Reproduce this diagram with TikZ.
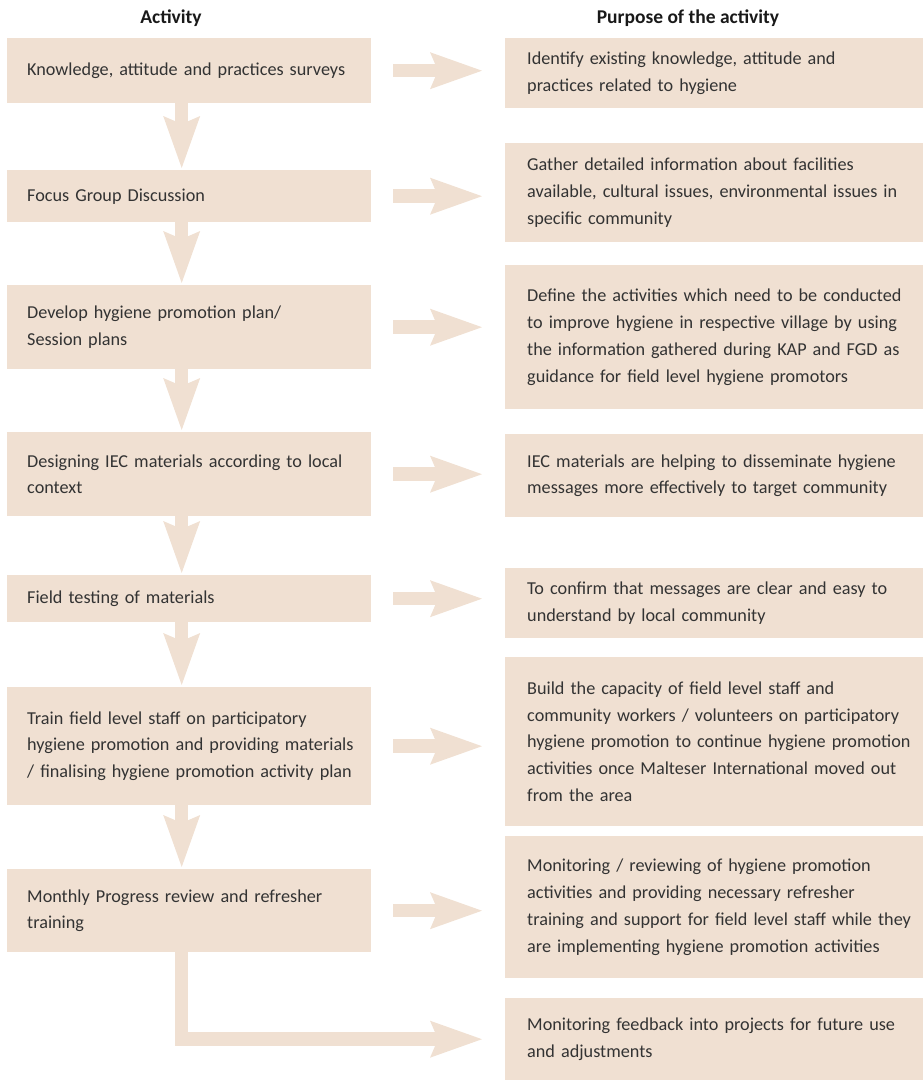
\documentclass[tikz,border=0pt]{standalone}
\usepackage{fontspec}
\setmainfont{Carlito}
\usetikzlibrary{arrows.meta}
\definecolor{boxfill}{HTML}{F0E0D2}
\definecolor{boxtext}{HTML}{333333}
\tikzset{
  actbox/.style={fill=boxfill, anchor=north west, inner xsep=0pt, inner ysep=0pt,
    text width=364pt, align=left, text=boxtext,
    font=\fontsize{18.2}{26.7}\selectfont,
    execute at begin node={\leftskip=20pt\relax}},
  purbox/.style={actbox, text width=418pt,
    execute at begin node={\leftskip=22pt\relax}},
  flow/.style={draw=boxfill, line width=13.5pt, line join=miter,
    -{Stealth[length=52pt,width=37pt,inset=8pt,line width=0pt]}},
  colhead/.style={font=\bfseries\fontsize{19.5}{22}\selectfont, text=black!90}
}
\begin{document}
\begin{tikzpicture}[x=1pt,y=-1pt]
  \useasboundingbox (0,0) rectangle (923,1080);
  % column headings
  \node[colhead] (h1) at (171,18) {Activity};
  \node[colhead] (h2) at (688,18) {Purpose of the activity};
  % activities
  \node[actbox, minimum height=65pt] (a1) at (7,38) {Knowledge, attitude and practices surveys\\[8pt]};
  \node[actbox, minimum height=52pt] (a2) at (7,170) {Focus Group Discussion};
  \node[actbox, minimum height=84pt] (a3) at (7,285) {Develop hygiene promotion plan/\\Session plans};
  \node[actbox, minimum height=84pt] (a4) at (7,432) {Designing IEC materials according to local\\context};
  \node[actbox, minimum height=47pt] (a5) at (7,575) {Field testing of materials};
  \node[actbox, minimum height=118pt] (a6) at (7,687) {Train field level staff on participatory\\hygiene promotion and providing materials\\/ finalising hygiene promotion activity plan};
  \node[actbox, minimum height=83pt] (a7) at (7,869) {Monthly Progress review and refresher\\training};
  % purposes
  \node[purbox, minimum height=70pt] (p1) at (505,38) {Identify existing knowledge, attitude and\\practices related to hygiene};
  \node[purbox, minimum height=99pt] (p2) at (505,143) {Gather detailed information about facilities\\available, cultural issues, environmental issues in\\specific community};
  \node[purbox, minimum height=144pt] (p3) at (505,265) {Define the activities which need to be conducted\\to improve hygiene in respective village by using\\the information gathered during KAP and FGD as\\guidance for field level hygiene promotors};
  \node[purbox, minimum height=83pt] (p4) at (505,434) {IEC materials are helping to disseminate hygiene\\messages more effectively to target community};
  \node[purbox, minimum height=70pt] (p5) at (505,568) {To confirm that messages are clear and easy to\\understand by local community};
  \node[purbox, minimum height=169pt] (p6) at (505,657) {Build the capacity of field level staff and\\community workers / volunteers on participatory\\hygiene promotion to continue hygiene promotion\\activities once Malteser International moved out\\from the area};
  \node[purbox, minimum height=142pt] (p7) at (505,836) {Monitoring / reviewing of hygiene promotion\\activities and providing necessary refresher\\training and support for field level staff while they\\are implementing hygiene promotion activities};
  \node[purbox, minimum height=82pt] (p8) at (505,998) {Monitoring feedback into projects for future use\\and adjustments};
  % arrows down the activity column
  \foreach \i/\j in {1/2,2/3,3/4,4/5,5/6,6/7}
    \draw[flow, shorten >=2pt] ([xshift=-7.5pt]a\i.south) -- ([xshift=-7.5pt]a\j.north);
  % arrows across to the purposes
  \foreach \i in {1,...,7}
    \draw[flow, shorten <=22pt, shorten >=23pt] (a\i.east) -- (a\i.east -| p\i.west);
  \draw[flow, shorten >=23pt] ([xshift=-7.5pt]a7.south) |- (p8.west);
\end{tikzpicture}
\end{document}
